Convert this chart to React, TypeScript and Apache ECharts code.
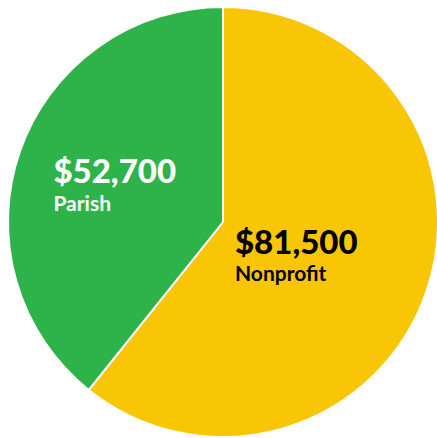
import React, { useEffect, useRef } from "react";
import * as echarts from "echarts";

const categories = ["Nonprofit", "Parish"];
const values = [81500, 52700];
const amountLabels = ["$81,500", "$52,700"];
const colors = ["#f9c606", "#2db34a"];
const textColors = ["#000000", "#ffffff"];

export default function App() {
  const ref = useRef<HTMLDivElement>(null);
  useEffect(() => {
    if (!ref.current) return;
    const chart = echarts.init(ref.current, undefined, { renderer: "svg" });
    chart.setOption({
      animation: false,
      series: [
        {
          type: "pie",
          center: [223, 222],
          radius: 215,
          startAngle: 90,
          clockwise: true,
          itemStyle: { borderColor: "#ffffff", borderWidth: 2 },
          emphasis: { disabled: true },
          labelLine: { show: false },
          data: categories.map((name, i) => ({
            name,
            value: values[i],
            itemStyle: { color: colors[i] },
            label: {
              show: true,
              position: "inside",
              formatter: () => `{a|${amountLabels[i]}}\n{b|${name}}`,
              align: "left",
              rich: {
                a: {
                  fontFamily: "Lato",
                  fontWeight: 900,
                  fontSize: 33,
                  color: textColors[i],
                  lineHeight: 38,
                  align: "left",
                },
                b: {
                  fontFamily: "Lato",
                  fontWeight: 700,
                  fontSize: 21,
                  color: textColors[i],
                  lineHeight: 26,
                  align: "left",
                },
              },
            },
          })),
          labelLayout: (params: any) =>
            params.dataIndex === 0 ? { dx: -31, dy: -5 } : { dx: -4, dy: -2 },
        },
      ],
    });
    return () => chart.dispose();
  }, []);
  return (
    <div
      ref={ref}
      style={{ position: "fixed", left: 0, top: 0, width: 437, height: 438, background: "#ffffff" }}
    />
  );
}
